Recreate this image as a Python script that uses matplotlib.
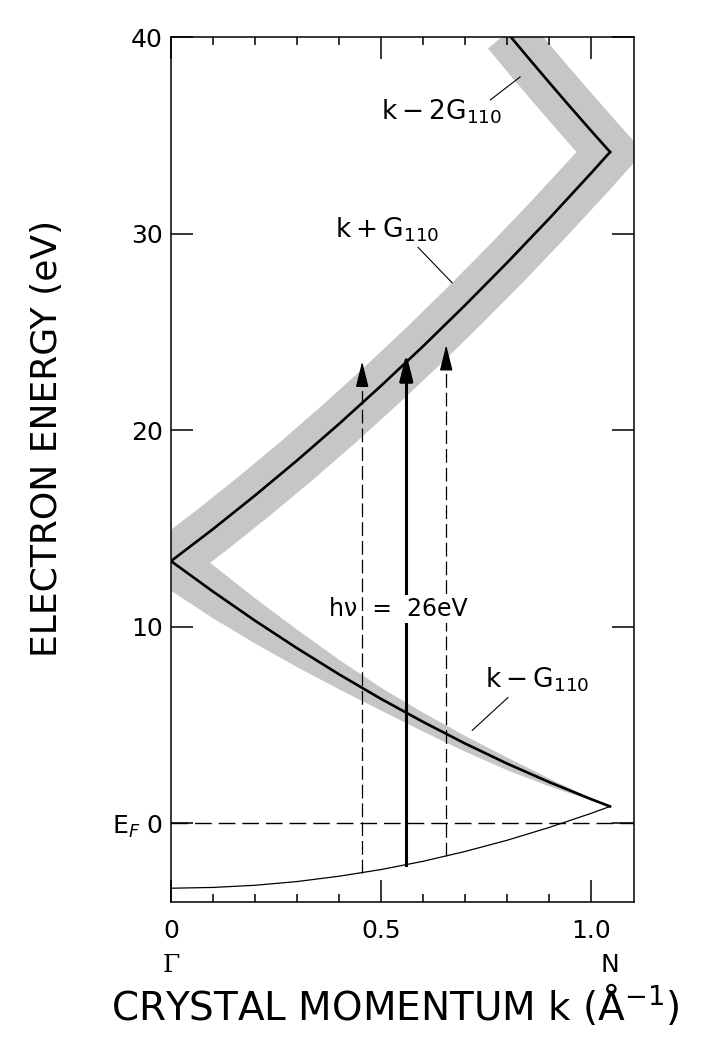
import matplotlib
matplotlib.use('Agg')
import matplotlib.pyplot as plt
from matplotlib.transforms import blended_transform_factory

plt.rcParams['font.family'] = ['DejaVu Sans']
plt.rcParams['mathtext.fontset'] = 'dejavusans'

# ---------------- data ----------------
k_pts = [0.0, 0.1, 0.2, 0.3, 0.4, 0.5, 0.6, 0.7, 0.8, 0.9, 1.0, 1.045]
E_parabola = [-3.30, -3.26, -3.15, -2.96, -2.69, -2.35, -1.93, -1.43, -0.86, -0.21, 0.51, 0.86]
E_k_minus_G = [13.34, 11.79, 10.31, 8.91, 7.58, 6.33, 5.16, 4.06, 3.04, 2.10, 1.23, 0.86]
band_halfwidth_kmG = [1.5, 1.35, 1.15, 0.95, 0.75, 0.58, 0.48, 0.40, 0.32, 0.20, 0.05, 0.0]
E_k_plus_G = [13.34, 14.97, 16.68, 18.46, 20.32, 22.26, 24.27, 26.36, 28.52, 30.76, 33.08, 34.15]
k_2G = [1.045, 1.0, 0.95, 0.9, 0.85, 0.8]
E_k_minus_2G = [34.15, 35.23, 36.45, 37.69, 38.95, 40.23]

arrow_k = [0.455, 0.56, 0.655]
arrow_E_start = [-2.51, -2.11, -1.67]
arrow_styles = ['dashed', 'solid', 'dashed']
photon_energy = 26.0

x_ticks = [0.0, 0.5, 1.0]
x_ticklabels = ['0', '0.5', '1.0']
y_ticks = [0, 10, 20, 30, 40]
y_ticklabels = ['E$_F$ 0', '10', '20', '30', '40']
k_N = 1.045

# ---------------- figure ----------------
fig = plt.figure(figsize=(7.24, 10.37), dpi=100)
ax = fig.add_axes([0.2362, 0.1302, 0.6395, 0.8341])
ax.set_xlim(0, 1.102)
ax.set_ylim(-4.0, 40)

band_color = '#c6c6c6'
# shaded bands
ax.plot(k_pts + k_2G[1:], E_k_plus_G + E_k_minus_2G[1:], color=band_color,
        lw=36, solid_joinstyle='miter', solid_capstyle='butt', zorder=1)
lo = [e - w for e, w in zip(E_k_minus_G, band_halfwidth_kmG)]
hi = [e + w for e, w in zip(E_k_minus_G, band_halfwidth_kmG)]
ax.fill_between(k_pts, lo, hi, color=band_color, lw=0, zorder=1)

# band lines
ax.plot(k_pts, E_k_plus_G, color='black', lw=1.9, zorder=3)
ax.plot(k_2G, E_k_minus_2G, color='black', lw=1.9, zorder=3)
ax.plot(k_pts, E_k_minus_G, color='black', lw=1.9, zorder=3)
ax.plot(k_pts, E_parabola, color='black', lw=0.9, zorder=3)

# Fermi level
ax.axhline(0, color='black', lw=1.0, ls=(0, (12, 5)), zorder=2)

# transitions
for k, e0, st in zip(arrow_k, arrow_E_start, arrow_styles):
    top = e0 + photon_energy
    lw = 2.2 if st == 'solid' else 0.9
    ls = '-' if st == 'solid' else (0, (11, 4))
    z = 3 if st == 'solid' else (5 if k < 0.5 else 3)
    ax.plot([k, k], [e0, top - 0.8], color='black', lw=lw, ls=ls, zorder=z)
    ax.annotate('', xy=(k, top), xytext=(k, top - 1.2),
                arrowprops=dict(arrowstyle='-|>,head_length=0.8,head_width=0.2',
                                color='black', lw=lw, shrinkA=0, shrinkB=0,
                                mutation_scale=20),
                zorder=6)

ax.text(0.54, 10.9, 'h\u03bd  =  26eV', fontsize=17, ha='center', va='center',
        zorder=4, bbox=dict(facecolor='white', edgecolor='none', pad=1.5))

# branch labels with leader lines
ax.text(0.50, 35.8, r'$\mathrm{k-2G}_{110}$', fontsize=19, ha='left', va='baseline')
ax.plot([0.760, 0.831], [36.8, 37.97], color='black', lw=0.8)
ax.text(0.39, 29.8, r'$\mathrm{k+G}_{110}$', fontsize=19, ha='left', va='baseline')
ax.plot([0.588, 0.669], [29.3, 27.5], color='black', lw=0.8)
ax.text(0.748, 6.9, r'$\mathrm{k-G}_{110}$', fontsize=19, ha='left', va='baseline')
ax.plot([0.802, 0.717], [6.4, 4.73], color='black', lw=0.8)

# axes styling
for sp in ax.spines.values():
    sp.set_linewidth(1.1)
ax.set_xticks(x_ticks)
ax.set_xticklabels(x_ticklabels, fontsize=18)
ax.set_xticks([i / 10 for i in range(1, 11) if i not in (5, 10)], minor=True)
ax.set_yticks(y_ticks)
ax.set_yticklabels(y_ticklabels, fontsize=18)
ax.tick_params(which='both', direction='in', top=True, right=True, width=1.1)
ax.tick_params(which='major', length=15.5)
ax.tick_params(which='minor', length=5.5)
ax.tick_params(axis='x', pad=12)
ax.tick_params(axis='y', pad=6)

trans = blended_transform_factory(ax.transData, fig.transFigure)
ax.text(0.0, 1 - 965 / 1037, '\u0393', fontsize=18, family='DejaVu Serif',
        ha='center', va='center', transform=trans)
ax.text(k_N, 1 - 965 / 1037, 'N', fontsize=18, ha='center', va='center', transform=trans)

ax.set_xlabel('CRYSTAL MOMENTUM k (\u00c5$^{-1}$)', fontsize=28)
ax.xaxis.label.set_va('center')
ax.xaxis.set_label_coords(0.484, -0.119)
ax.set_ylabel('ELECTRON ENERGY (eV)', fontsize=26)
ax.yaxis.label.set_va('center')
ax.yaxis.set_label_coords(-0.268, 0.536)

fig.savefig('out.png', dpi=100)
